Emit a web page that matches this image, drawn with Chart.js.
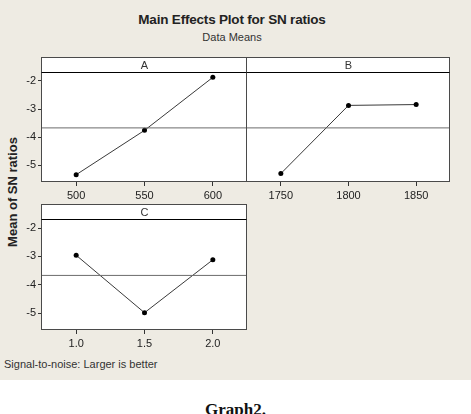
<!DOCTYPE html>
<html lang="en">
  <head>
    <meta charset="UTF-8" />
    <title>Main Effects Plot for SN ratios</title>
    <script src="https://cdn.jsdelivr.net/npm/chart.js"></script>
    <style>
      body {
        margin: 0;
        width: 471px;
        height: 414px;
        background-color: #ffffff;
        position: relative;
        overflow: hidden;
        font-family: "Liberation Sans", Arial, sans-serif;
      }
      .paper {
        position: absolute;
        left: 0;
        top: 0;
        width: 471px;
        height: 380px;
        background-color: #eeebe3;
      }
      canvas {
        position: absolute;
        left: 0;
        top: 0;
      }
      .title {
        position: absolute;
        left: 0;
        width: 464px;
        top: 12px;
        text-align: center;
        font-weight: bold;
        font-size: 13.5px;
        letter-spacing: -0.2px;
        color: #222;
      }
      .subtitle {
        position: absolute;
        left: 0;
        width: 464px;
        top: 31px;
        text-align: center;
        font-size: 11px;
        color: #333;
      }
      .ylabel {
        position: absolute;
        left: 12px;
        top: 192px;
        transform: translate(-50%, -50%) rotate(-90deg);
        white-space: nowrap;
        font-weight: bold;
        font-size: 13px;
        color: #222;
      }
      .note {
        position: absolute;
        left: 4px;
        top: 358px;
        font-size: 11px;
        color: #333;
      }
      .caption {
        position: absolute;
        left: 205px;
        top: 400px;
        font-family: "Liberation Serif", "Times New Roman", serif;
        font-weight: bold;
        font-size: 17px;
        color: #111;
      }
    </style>
  </head>
  <body>
    <div class="paper"></div>
    <div class="title">Main Effects Plot for SN ratios</div>
    <div class="subtitle">Data Means</div>
    <div class="ylabel">Mean of SN ratios</div>
    <div class="note">Signal-to-noise: Larger is better</div>
    <div class="caption">Graph2.</div>

    <canvas id="panelA" width="471" height="414"></canvas>
    <canvas id="panelB" width="471" height="414"></canvas>
    <canvas id="panelC" width="471" height="414"></canvas>

    <script>
      // factor levels and mean SN ratios
      const levelsA = [500, 550, 600];
      const snA = [-5.34, -3.76, -1.87];
      const levelsB = [1750, 1800, 1850];
      const snB = [-5.30, -2.87, -2.84];
      const levelsC = [1.0, 1.5, 2.0];
      const snC = [-2.96, -4.99, -3.12];
      const yTicks = [-5, -4, -3, -2];

      // overall mean of all SN ratios (reference line)
      const allSn = snA.concat(snB, snC);
      const grandMean = allSn.reduce((a, b) => a + b, 0) / allSn.length;

      const W = 471, H = 414;
      const yAxisW = 42;
      const xAxisH = 22;
      const stripH = 15;

      // draws the white box, the header strip and its label
      const panelFrame = {
        id: 'panelFrame',
        beforeDraw(chart, args, opts) {
          const { ctx, chartArea: a } = chart;
          ctx.save();
          ctx.fillStyle = '#ffffff';
          ctx.fillRect(a.left, a.top - stripH, a.right - a.left, a.bottom - a.top + stripH);
          ctx.restore();
        },
        afterDraw(chart, args, opts) {
          const { ctx, chartArea: a } = chart;
          // panels that touch share one border line
          const l = Math.round(a.left) - 0.5, r = Math.round(a.right) - 0.5;
          const t = Math.round(a.top) + 0.5, b = Math.round(a.bottom) - 0.5;
          ctx.save();
          ctx.lineWidth = 1;
          ctx.strokeStyle = '#4a4a4a';
          ctx.strokeRect(l, t - stripH, r - l, b - t + stripH);
          ctx.strokeStyle = '#000000';
          ctx.beginPath();
          ctx.moveTo(l, t);
          ctx.lineTo(r, t);
          ctx.stroke();
          ctx.fillStyle = '#333';
          ctx.font = '11px "Liberation Sans", Arial, sans-serif';
          ctx.textAlign = 'center';
          ctx.textBaseline = 'middle';
          ctx.fillText(opts.label, (a.left + a.right) / 2, a.top - stripH / 2 + 1);
          ctx.restore();
        }
      };

      function makePanel(id, label, xs, ys, xMin, xMax, showY, area) {
        const points = xs.map((x, i) => ({ x: x, y: ys[i] }));
        return new Chart(document.getElementById(id), {
          type: 'line',
          data: {
            datasets: [
              {
                data: [{ x: xMin, y: grandMean }, { x: xMax, y: grandMean }],
                borderColor: '#6b6b6b',
                borderWidth: 1,
                pointRadius: 0
              },
              {
                data: points,
                borderColor: '#3a3a3a',
                borderWidth: 1,
                pointRadius: 2.5,
                pointBackgroundColor: '#000',
                pointBorderColor: '#000',
                pointBorderWidth: 0,
                tension: 0
              }
            ]
          },
          options: {
            responsive: false,
            animation: false,
            events: [],
            layout: {
              padding: {
                left: showY ? area.left - yAxisW : area.left,
                top: area.top,
                right: W - area.right,
                bottom: H - area.bottom - xAxisH
              }
            },
            plugins: {
              legend: { display: false },
              tooltip: { enabled: false },
              panelFrame: { label: label }
            },
            scales: {
              x: {
                type: 'linear',
                min: xMin,
                max: xMax,
                afterBuildTicks: s => { s.ticks = xs.map(v => ({ value: v })); },
                afterFit: s => { s.height = xAxisH; },
                grid: { drawOnChartArea: false, tickLength: 4, color: '#333' },
                border: { display: false },
                ticks: {
                  padding: 3,
                  color: '#222',
                  font: { family: '"Liberation Sans", Arial, sans-serif', size: 11 },
                  callback: v => (xs === levelsC ? v.toFixed(1) : String(v))
                }
              },
              y: {
                display: showY,
                min: -5.6,
                max: -1.68,
                afterBuildTicks: s => { s.ticks = yTicks.map(v => ({ value: v })); },
                afterFit: s => { s.width = showY ? yAxisW : 0; },
                grid: { drawOnChartArea: false, tickLength: 4, color: '#333' },
                border: { display: false },
                ticks: {
                  padding: 2,
                  color: '#222',
                  font: { family: '"Liberation Sans", Arial, sans-serif', size: 11 }
                }
              }
            }
          },
          plugins: [panelFrame]
        });
      }

      makePanel('panelA', 'A', levelsA, snA, 475, 625, true, { left: 42, top: 72, right: 247, bottom: 182 });
      makePanel('panelB', 'B', levelsB, snB, 1725, 1875, false, { left: 247, top: 72, right: 450, bottom: 182 });
      makePanel('panelC', 'C', levelsC, snC, 0.75, 2.25, true, { left: 42, top: 219, right: 247, bottom: 330 });
    </script>
  </body>
</html>
